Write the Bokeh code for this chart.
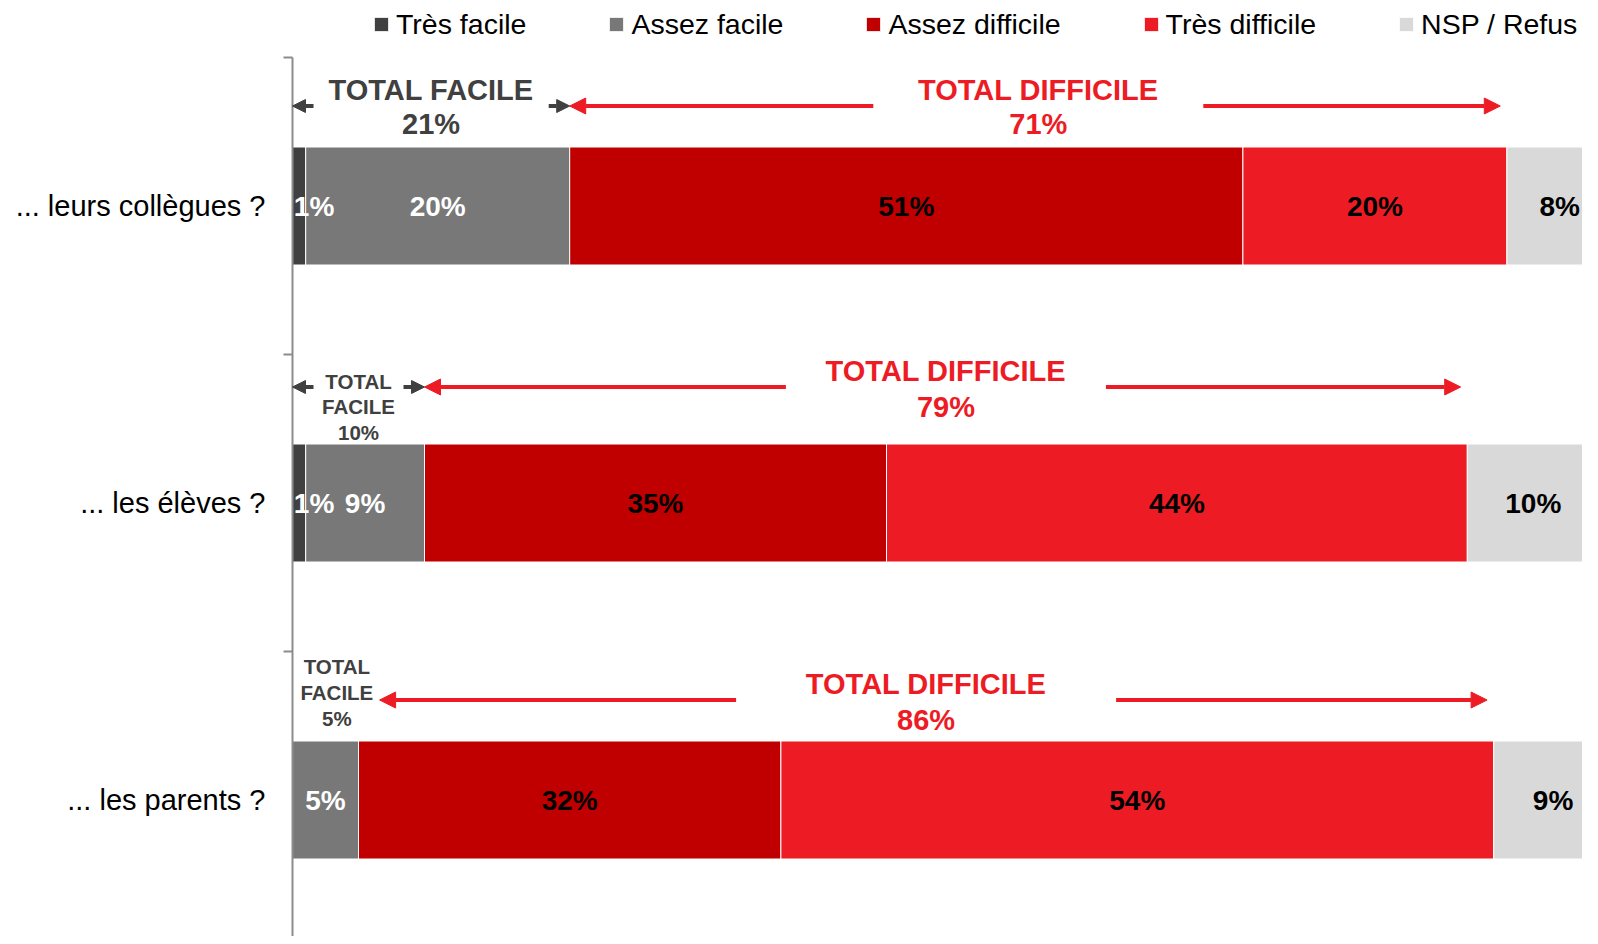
from bokeh.plotting import figure
from bokeh.models import (ColumnDataSource, Legend, LegendItem, FixedTicker, Range1d,
                          Arrow, NormalHead)
from bokeh.core.properties import value
from bokeh.embed import file_html
from bokeh.resources import INLINE

# ---------------- data ----------------
questions = ["... leurs collègues ?", "... les élèves ?", "... les parents ?"]
series = ["Très facile", "Assez facile", "Assez difficile", "Très difficile", "NSP / Refus"]
tres_facile = [1, 1, 0]
assez_facile = [20, 9, 5]
assez_difficile = [51, 35, 32]
tres_difficile = [20, 44, 54]
nsp_refus = [8, 10, 9]
total_facile = [21, 10, 5]
total_difficile = [71, 79, 86]

# ---------------- style / layout ----------------
colors = ["#404040", "#787878", "#C00000", "#ED1C24", "#D9D9D9"]
label_colors = ["white", "white", "black", "black", "black"]
DARK = "#404040"
RED = "#ED1C24"
FONT = "Liberation Sans"
PX_Y = 297.0      # pixels per category
PX_X = 13.2       # pixels per percent
W, H = 1582, 936
LEFT = 292
ROW0_CENTER = 205.5   # pixel position of first row centre inside the frame

keys = ["tf", "af", "ad", "td", "nsp"]
values = [tres_facile, assez_facile, assez_difficile, tres_difficile, nsp_refus]
ys = [-i for i in range(len(questions))]

src = ColumnDataSource(dict(y=ys, **{k: v for k, v in zip(keys, values)}))

y_top = ROW0_CENTER / PX_Y
p = figure(width=W, height=H, output_backend="svg", toolbar_location=None,
           x_range=Range1d(0, (W - LEFT) / PX_X),
           y_range=Range1d(y_top - H / PX_Y, y_top),
           x_axis_location=None,
           min_border_left=LEFT, min_border_right=0, min_border_top=0, min_border_bottom=0)
p.outline_line_color = None
p.background_fill_color = "white"
p.border_fill_color = "white"
p.xgrid.visible = False
p.ygrid.visible = False

renderers = p.hbar_stack(keys, y="y", height=118 / PX_Y, color=colors, source=src,
                         line_color="white", line_width=1)

# y axis with category names
yax = p.yaxis[0]
yax.ticker = FixedTicker(ticks=ys, minor_ticks=[0.5 - i for i in range(len(questions) + 1)])
yax.major_label_overrides = {y: q for y, q in zip(ys, questions)}
yax.bounds = (0.5 - len(questions), 0.5)
yax.axis_line_color = "#8C8C8C"
yax.axis_line_width = 2
yax.major_tick_line_color = None
yax.major_tick_out = 0
yax.major_tick_in = 0
yax.minor_tick_line_color = "#8C8C8C"
yax.minor_tick_line_width = 2
yax.minor_tick_out = 9
yax.minor_tick_in = 0
yax.major_label_standoff = 18
yax.major_label_text_font = FONT
yax.major_label_text_font_size = "29px"
yax.major_label_text_color = "black"

# segment labels
lx, ly, lt, lc, lo = [], [], [], [], []
for i, y in enumerate(ys):
    cum = 0
    for s, vals in enumerate(values):
        v = vals[i]
        if v > 0:
            lx.append(cum + v / 2)
            ly.append(y)
            lt.append(f"{v}%")
            lc.append(label_colors[s])
            lo.append(15 if v <= 1 else 0)
        cum += v
p.text(x="x", y="y", text="t", text_color="c", x_offset="o",
       source=ColumnDataSource(dict(x=lx, y=ly, t=lt, c=lc, o=lo)),
       text_font=value(FONT), text_font_style="bold", text_font_size="28px",
       text_align="center", text_baseline="middle")

# total annotations (offsets are pixels above the row centre)
fac_lines = [[("TOTAL FACILE", 116), (None, 82)],
             [("TOTAL", 122), ("FACILE", 97), (None, 71)],
             [("TOTAL", 133.5), ("FACILE", 108), (None, 81.5)]]
fac_sizes = ["29px", "20.5px", "20.5px"]
fac_min_x = 3.36
dif_offsets = [(116, 82), (132, 96.4), (116, 80.5)]
arrow_offsets = [100, 116, 100]
red_gap_px = [165, 160, 190]
red_left_tip = [21, 10, 6.6]

for i, y in enumerate(ys):
    tf = total_facile[i]
    td = total_difficile[i]
    fx = max(tf / 2, fac_min_x)
    tx, ty, tt = [], [], []
    for txt, off in fac_lines[i]:
        tx.append(fx)
        ty.append(y + off / PX_Y)
        tt.append(txt if txt else f"{tf}%")
    p.text(x=tx, y=ty, text=tt, text_color=DARK, text_font=value(FONT),
           text_font_style="bold", text_font_size=fac_sizes[i],
           text_align="center", text_baseline="middle")
    dx = tf + td / 2
    p.text(x=[dx, dx], y=[y + dif_offsets[i][0] / PX_Y, y + dif_offsets[i][1] / PX_Y],
           text=["TOTAL DIFFICILE", f"{td}%"], text_color=RED, text_font=value(FONT),
           text_font_style="bold", text_font_size="29px",
           text_align="center", text_baseline="middle")

# arrows
ras = dict(xs=[], xe=[], ys=[], ye=[])
das = dict(xs=[], xe=[], ys=[], ye=[])
for i, y in enumerate(ys):
    tf = total_facile[i]
    td = total_difficile[i]
    ay = y + arrow_offsets[i] / PX_Y
    mid = tf + td / 2
    g = red_gap_px[i] / PX_X
    ras["xs"] += [mid - g, mid + g]
    ras["xe"] += [red_left_tip[i], tf + td - 0.5]
    ras["ys"] += [ay, ay]
    ras["ye"] += [ay, ay]
    if tf >= 10:
        stub = 21 / PX_X
        das["xs"] += [stub, tf - stub]
        das["xe"] += [0, tf]
        das["ys"] += [ay, ay]
        das["ye"] += [ay, ay]

p.add_layout(Arrow(end=NormalHead(size=16, fill_color=RED, line_color=RED),
                   x_start="xs", x_end="xe", y_start="ys", y_end="ye",
                   line_color=RED, line_width=4, source=ColumnDataSource(ras)))
p.add_layout(Arrow(end=NormalHead(size=13, fill_color=DARK, line_color=DARK),
                   x_start="xs", x_end="xe", y_start="ys", y_end="ye",
                   line_color=DARK, line_width=4, source=ColumnDataSource(das)))

# legend
legend = Legend(items=[LegendItem(label=s, renderers=[r]) for s, r in zip(series, renderers)],
                orientation="horizontal", location=(80, H - 24 - 16.5),
                glyph_width=18, glyph_height=18, label_standoff=6, spacing=81,
                padding=0, margin=0, border_line_color=None, background_fill_alpha=0,
                label_text_font=FONT, label_text_font_size="28.5px", label_text_color="black")
p.add_layout(legend)

open("out.html", "w").write(file_html(p, INLINE))
